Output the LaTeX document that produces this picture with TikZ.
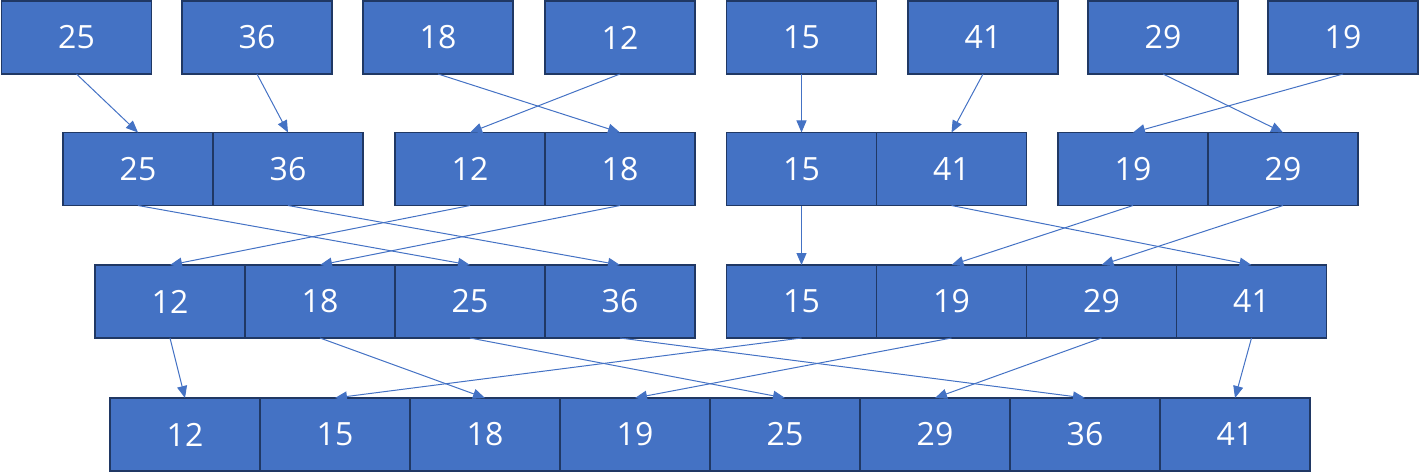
\documentclass[tikz,border=0pt]{standalone}
\usepackage{fontspec}
\setmainfont{Open Sans}
\usepackage{tikz}
\usetikzlibrary{arrows.meta,chains,positioning}
\definecolor{boxblue}{HTML}{4472C4}
\definecolor{boxline}{HTML}{203864}
\tikzstyle{cell}=[rectangle, draw=boxline, line width=1.5pt, fill=boxblue, minimum width=150pt, minimum height=73pt,
        inner sep=0pt, outer sep=0pt, text=white, font=\fontsize{32}{38}\selectfont]
\tikzstyle{move}=[draw=boxblue, line width=1pt, -{Triangle[length=12pt,width=10pt]}]

\begin{document}
\begin{tikzpicture}[x=1pt, y=-1pt, start chain=p1 going right, start chain=p2 going right, start chain=p3 going right,
  start chain=p4 going right, start chain=q1 going right, start chain=q2 going right, start chain=r going right, node distance=0pt]
\useasboundingbox (0,0) rectangle (1420,476);
% single cells
\node [cell] (a1) at (76.5,37.5) {25};
\node [cell] (a2) at (257,37.5) {36};
\node [cell] (a3) at (438,37.5) {18};
\node [cell] (a4) at (620,37.5) {12};
\node [cell] (a5) at (801.5,37.5) {15};
\node [cell] (a6) at (983,37.5) {41};
\node [cell] (a7) at (1163,37.5) {29};
\node [cell] (a8) at (1343,37.5) {19};
% pairs
\node [cell, on chain=p1] (b1) at (138,169) {25};
\node [cell, on chain=p1] (b2) {36};
\node [cell, on chain=p2] (b3) at (470,169) {12};
\node [cell, on chain=p2] (b4) {18};
\node [cell, on chain=p3] (b5) at (801.5,169) {15};
\node [cell, on chain=p3] (b6) {41};
\node [cell, on chain=p4] (b7) at (1133,169) {19};
\node [cell, on chain=p4] (b8) {29};
% fours
\node [cell, on chain=q1] (c1) at (170,301.5) {12};
\node [cell, on chain=q1] (c2) {18};
\node [cell, on chain=q1] (c3) {25};
\node [cell, on chain=q1] (c4) {36};
\node [cell, on chain=q2] (c5) at (801.5,301.5) {15};
\node [cell, on chain=q2] (c6) {19};
\node [cell, on chain=q2] (c7) {29};
\node [cell, on chain=q2] (c8) {41};
% sorted
\node [cell, on chain=r] (d1) at (185,434.5) {12};
\node [cell, on chain=r] (d2) {15};
\node [cell, on chain=r] (d3) {18};
\node [cell, on chain=r] (d4) {19};
\node [cell, on chain=r] (d5) {25};
\node [cell, on chain=r] (d6) {29};
\node [cell, on chain=r] (d7) {36};
\node [cell, on chain=r] (d8) {41};

\foreach \s/\t in {a1/b1, a2/b2, a3/b4, a4/b3, a5/b5, a6/b6, a7/b8, a8/b7,
  b1/c3, b2/c4, b3/c1, b4/c2, b5/c5, b6/c8, b7/c6, b8/c7,
  c1/d1, c2/d3, c3/d5, c4/d7, c5/d2, c6/d4, c7/d6, c8/d8}
  \draw [move] (\s.south) -- (\t.north);

\end{tikzpicture}
\end{document}
